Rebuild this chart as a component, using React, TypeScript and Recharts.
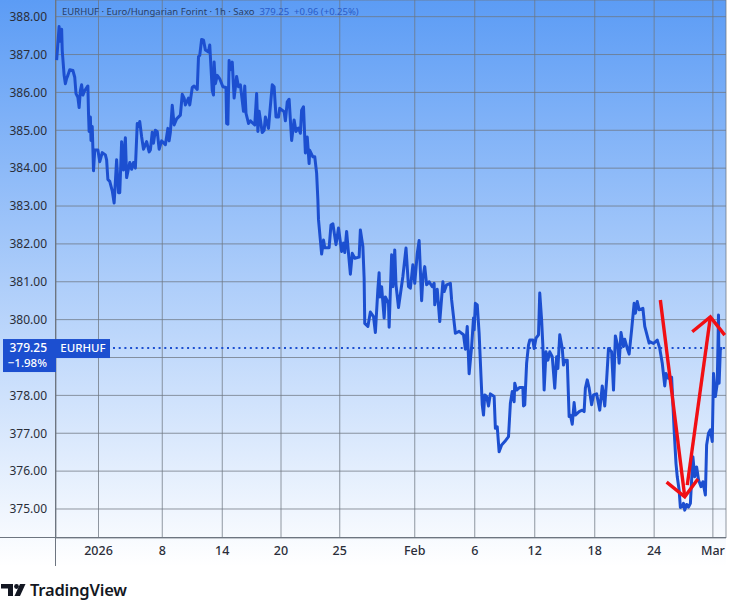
import {
  LineChart,
  Line,
  XAxis,
  YAxis,
  CartesianGrid,
  ReferenceLine,
} from "recharts";

// hourly bars counted from the left edge of the chart, weekends collapsed
const bars = [
  1, 2, 5, 6, 9, 10, 13, 15, 17, 19, 22, 27, 30, 32, 35, 37, 39, 41, 43, 46, 51, 52, 53, 55, 56, 58, 60, 62, 67, 70,
  74, 79, 81, 83, 86, 90, 93, 97, 100, 102, 105, 108, 109, 111, 113, 118, 121, 124, 127, 130, 132, 134, 137, 140,
  145, 149, 151, 154, 156, 159, 162, 165, 169, 175, 179, 181, 183, 186, 189, 193, 199, 202, 205, 207, 212, 214,
  218, 221, 226, 228, 230, 233, 236, 239, 244, 246, 250, 252, 253, 255, 258, 262, 267, 272, 273, 275, 277, 279,
  282, 285, 289, 292, 295, 300, 302, 304, 308, 311, 318, 321, 323, 325, 330, 333, 335, 340, 342, 346, 349, 352,
  356, 358, 365, 367, 370, 373, 377, 381, 384, 388, 391, 393, 396, 399, 402, 405, 406, 411, 414, 417, 419,
  420, 422, 425, 428, 430, 437, 440, 443, 448, 452, 457, 460, 462, 465, 468, 471, 474, 478, 485, 487, 491, 493,
  494, 499, 503, 508, 511, 515, 517, 518, 521, 525, 527, 532, 533, 537, 539, 542, 544, 548, 555, 560, 564, 567,
  571, 574, 578, 581, 585, 587, 590, 593, 597, 602, 605, 606, 610, 614, 619, 621, 625, 631, 633, 636, 639, 645,
  652, 655, 658, 661, 665, 668, 669, 671, 674, 677, 680,
  682, 684, 686, 689, 692, 695, 701, 703, 706, 709, 713, 718, 724, 727, 730, 733, 734, 737, 742, 747, 748, 750,
  753, 756, 758, 763, 765, 768, 772, 774, 777, 779, 781, 784, 787, 790, 794, 798, 801, 803, 806, 810, 812, 814,
  818, 821, 823, 826, 829, 831, 837, 842, 845, 847, 850, 853, 857, 860, 865, 870, 874, 878, 881, 884, 889, 892,
  895, 899, 901, 904, 908, 910, 914, 917, 921, 925, 927, 930, 933, 939, 942, 949,
  950, 956, 962, 966, 970, 974, 976, 980, 985, 989, 992, 994, 997, 999, 1002, 1004, 1006, 1009, 1012, 1015, 1019,
  1022, 1025, 1028, 1032, 1035, 1039, 1041, 1044, 1047, 1050, 1052, 1055, 1058, 1060, 1061, 1063, 1066,
];

const closes = [
  386.85, 387.07, 387.74, 387.35, 387.67, 387.1, 386.45, 386.23, 386.37, 386.45, 386.6, 386.58, 386.4, 385.97,
  385.87, 385.6, 386.05, 386.2, 385.93, 386.05, 386.17, 385.45, 384.97, 385.35, 384.73, 385.1, 383.93, 384.48,
  384.48, 384.17, 384.41, 384.35, 384.22, 383.7, 383.65, 383.4, 383.08, 384.22, 383.35, 383.35, 384.7, 383.95,
  384.4, 384.8, 383.75, 384.15, 383.97, 384.15, 384.0, 385.18, 385.1, 385.23, 384.83, 384.5, 384.7, 384.43,
  384.48, 384.95, 384.66, 385.0, 384.97, 384.5, 384.72, 384.62, 385.05, 384.72, 384.95, 385.66, 385.14, 385.3,
  385.4, 385.95, 385.85, 385.67, 385.85, 385.67, 386.13, 386.17, 386.08, 386.94, 386.98, 387.4, 387.38, 387.12,
  387.07, 387.25, 386.05, 385.93, 386.8, 386.23, 386.45, 386.36, 386.15, 386.13, 385.18, 385.16, 386.84, 386.6,
  386.8, 385.85, 386.42, 386.15, 386.2, 385.5, 386.17, 385.45, 385.18, 385.25, 385.14, 385.97, 384.97, 385.5,
  384.94, 385.0, 385.35, 385.05, 385.45, 386.2, 386.15, 385.35, 385.35, 385.58, 385.49, 385.25, 385.75, 385.82,
  384.73, 385.27, 384.97, 385.06, 384.92, 385.53, 385.62, 384.4, 384.82, 384.12, 384.47, 384.3, 384.3, 383.87, 383.16,
  382.64, 382.28, 381.73, 382.1, 381.9, 381.9, 382.5, 382.53, 381.98, 382.42, 381.8, 382.02, 381.77, 382.33,
  381.75, 381.2, 381.75, 381.62, 381.65, 382.37, 381.93, 381.1, 379.9, 379.82, 380.2, 380.08, 379.66, 380.8,
  381.24, 380.6, 380.87, 380.04, 380.6, 380.43, 379.8, 381.71, 380.87, 381.84, 380.92, 380.32, 381.14, 381.89,
  380.87, 380.83, 381.45, 380.96, 381.75, 382.09, 380.5, 381.1, 381.4, 380.92, 381.0, 380.87, 380.96, 380.39,
  380.8, 379.95, 381.0, 380.74, 380.92, 380.96, 380.52, 380.08, 379.64, 379.69, 379.6, 379.22, 379.82, 378.57,
  379.29, 380.04, 379.73, 380.43, 380.39, 379.64, 378.5,
  377.75, 377.48, 378.01, 377.97, 377.72, 378.04, 377.97, 377.13, 377.17, 376.51, 376.69, 376.78, 376.91, 377.79,
  378.1, 377.83, 378.32, 378.14, 378.21, 378.21, 377.72, 377.75, 378.85, 379.33, 379.46, 379.46, 379.24, 379.51,
  379.6, 380.7, 379.99, 379.3, 378.14, 379.15, 378.93, 379.15, 379.02, 378.19, 379.02, 378.71, 379.6, 379.24,
  378.8, 378.93, 378.93, 377.44, 377.48, 377.24, 377.81, 377.48, 377.57, 377.61, 377.57, 378.19, 378.41, 378.19,
  377.75, 378.01, 378.04, 377.61, 378.25, 377.72, 378.41, 379.24, 379.15, 378.14, 379.57, 379.29, 378.85, 379.66,
  379.29, 379.48, 379.24, 379.09, 379.73, 380.43, 380.17, 380.48, 380.26, 380.3, 379.82, 379.38,
  379.42, 379.37, 379.46, 379.24, 378.85, 378.25, 378.58, 378.45, 378.48, 377.09, 376.2, 375.85, 375.5, 375.04,
  375.06, 375.15, 374.97, 375.12, 375.05, 375.15, 376.38, 375.85, 376.11, 375.77, 375.59, 375.72, 375.37, 376.69,
  377.0, 377.09, 376.78, 378.58, 377.97, 378.32, 380.12, 378.32, 379.24, 379.24,
];

const lastClose = 379.25;

const downShaftBars = [967, 1006];
const downShaftPrices = [380.52, 375.32];
const downHeadBars = [977, 1006, 1027];
const downHeadPrices = [375.71, 375.32, 375.79];
const upShaftBars = [1010, 1047];
const upShaftPrices = [375.63, 380.07];
const upHeadBars = [1018, 1047, 1070];
const upHeadPrices = [379.68, 380.07, 379.59];

const priceTicks = [375, 376, 377, 378, 379, 380, 381, 382, 383, 384, 385, 386, 387, 388];
const timeTicks = [68, 170, 266, 360, 454, 574, 670, 766, 862, 957, 1051];
const timeLabels = ["2026", "8", "14", "20", "25", "Feb", "6", "12", "18", "24", "Mar"];

const FONT = "'Noto Sans', sans-serif";
const BLUE = "#1c4fd0";
const RED = "#f10f14";

const priceData = bars.map((bar, i) => ({ bar, price: closes[i] }));
const zip = (xs: number[], ys: number[]) => xs.map((bar, i) => ({ bar, price: ys[i] }));
const arrows = [
  zip(downShaftBars, downShaftPrices),
  zip(downHeadBars, downHeadPrices),
  zip(upShaftBars, upShaftPrices),
  zip(upHeadBars, upHeadPrices),
];

function LastPriceTag({ viewBox }: any) {
  const y = viewBox.y;
  return (
    <g fontFamily={FONT} fill="#fff">
      <rect x={3} y={y - 9} width={53} height={33} fill={BLUE} />
      <rect x={56} y={y - 9} width={54} height={19} fill={BLUE} />
      <text x={47} y={y + 4} textAnchor="end" fontSize={12} fontWeight={500}>
        {lastClose.toFixed(2)}
      </text>
      <text x={47} y={y + 19} textAnchor="end" fontSize={11.5} fontWeight={500}>
        −1.98%
      </text>
      <text x={83} y={y + 4} textAnchor="middle" fontSize={11.5} fontWeight={500}>
        EURHUF
      </text>
    </g>
  );
}

export default function App() {
  return (
    <div style={{ position: "absolute", left: 0, top: 0, width: 730, height: 604, background: "#fff", overflow: "hidden" }}>
      <div
        style={{
          position: "absolute",
          left: 0,
          top: 0,
          width: 726,
          height: 566,
          background: "linear-gradient(180deg, #5c9cf5 0%, #ffffff 100%)",
        }}
      />
      <div style={{ position: "absolute", left: 55, top: 0, width: 1, height: 566, background: "#6d7580" }} />
      <div style={{ position: "absolute", left: 0, top: 537, width: 726, height: 1, background: "#6d7580" }} />
      <LineChart
        width={730}
        height={604}
        margin={{ top: 0, right: 4, bottom: 0, left: 0 }}
        style={{ position: "absolute", left: 0, top: 0 }}
      >
        <CartesianGrid stroke="#6d7580" strokeOpacity={0.75} />
        <XAxis
          type="number"
          dataKey="bar"
          domain={[0, 1072]}
          ticks={timeTicks}
          tickFormatter={(v: number) => timeLabels[timeTicks.indexOf(v)]}
          height={66}
          interval={0}
          axisLine={false}
          tickLine={false}
          tickSize={0}
          tickMargin={8}
          tick={{ fill: "#2a2e39", fontSize: 12.5, fontFamily: FONT, fontWeight: 500 }}
        />
        <YAxis
          type="number"
          domain={[374.234, 388.44]}
          ticks={priceTicks}
          // 379.00 sits behind the last price tag, so it gets a gridline and no label
          tickFormatter={(v: number) => (v === 379 ? "" : v.toFixed(2))}
          width={56}
          interval={0}
          axisLine={false}
          tickLine={false}
          tickSize={0}
          tickMargin={9}
          tick={{ fill: "#2a2e39", fontSize: 12, fontFamily: FONT }}
        />
        <ReferenceLine
          y={lastClose}
          stroke={BLUE}
          strokeWidth={2}
          strokeDasharray="2 3.7"
          label={<LastPriceTag />}
        />
        <Line
          data={priceData}
          dataKey="price"
          stroke={BLUE}
          strokeWidth={3}
          strokeLinejoin="round"
          dot={false}
          isAnimationActive={false}
        />
        {arrows.map((points, i) => (
          <Line
            key={i}
            data={points}
            dataKey="price"
            stroke={RED}
            strokeWidth={3.4}
            dot={false}
            isAnimationActive={false}
          />
        ))}
      </LineChart>
      <div
        style={{
          position: "absolute",
          left: 62,
          top: 5,
          fontFamily: FONT,
          fontSize: 9.5,
          lineHeight: "14px",
          color: "#2a3f66",
          whiteSpace: "pre",
        }}
      >
        EURHUF · Euro/Hungarian Forint · 1h · Saxo{"  "}
        <span style={{ color: "#2a5cc8" }}>379.25{"  "}+0.96 (+0.25%)</span>
      </div>
      <svg style={{ position: "absolute", left: 0, top: 582 }} width={28} height={16}>
        <path d="M1 2h12v12H8V6.5H1z" fill="#131722" />
        <circle cx={16.5} cy={4.5} r={2.4} fill="#131722" />
        <path d="M20 2h5.5L20 14h-5.5z" fill="#131722" />
      </svg>
      <div
        style={{
          position: "absolute",
          left: 30,
          top: 579,
          fontFamily: FONT,
          fontSize: 16.5,
          lineHeight: "22px",
          fontWeight: 600,
          color: "#131722",
          letterSpacing: -0.2,
        }}
      >
        TradingView
      </div>
    </div>
  );
}
